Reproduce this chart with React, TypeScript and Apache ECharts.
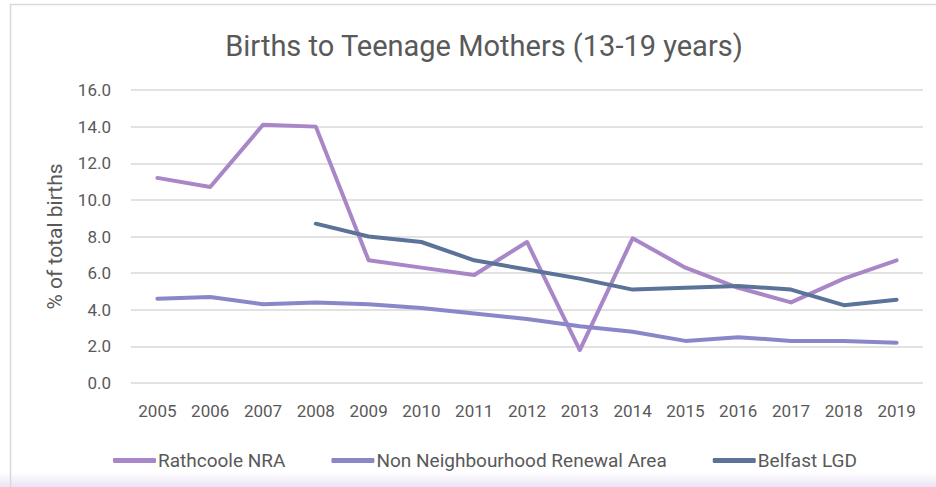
import React, { useEffect, useRef } from "react";
import * as echarts from "echarts";

const years = ["2005", "2006", "2007", "2008", "2009", "2010", "2011", "2012", "2013", "2014", "2015", "2016", "2017", "2018", "2019"];
const rathcoole = [11.2, 10.7, 14.1, 14.0, 6.7, 6.3, 5.9, 7.7, 1.8, 7.9, 6.3, 5.2, 4.4, 5.7, 6.7];
const nonNRA = [4.6, 4.7, 4.3, 4.4, 4.3, 4.1, 3.8, 3.5, 3.1, 2.8, 2.3, 2.5, 2.3, 2.3, 2.2];
const belfast = [null, null, null, 8.7, 8.0, 7.7, 6.7, 6.2, 5.7, 5.1, 5.2, 5.3, 5.1, 4.25, 4.55];
const seriesNames = ["Rathcoole NRA", "Non Neighbourhood Renewal Area", "Belfast LGD"];
const seriesColors = ["#A986C7", "#8A87C9", "#5B7299"];

const FONT = "Roboto";

export default function App() {
  const ref = useRef<HTMLDivElement>(null);
  useEffect(() => {
    if (!ref.current) return;
    const chart = echarts.init(ref.current, undefined, { renderer: "svg" });
    const data = [rathcoole, nonNRA, belfast];
    chart.setOption({
      animation: false,
      backgroundColor: "#ffffff",
      title: {
        text: "Births to Teenage Mothers (13-19 years)",
        left: 479,
        textAlign: "center",
        top: 26,
        textStyle: { fontFamily: FONT, fontSize: 29, fontWeight: "normal", color: "#595959" },
      },
      graphic: [
        {
          type: "rect",
          shape: { x: 0, y: 472, width: 936, height: 15 },
          style: {
            fill: new echarts.graphic.LinearGradient(0, 0, 0, 1, [
              { offset: 0, color: "rgba(255,255,255,1)" },
              { offset: 1, color: "#ECE3F5" },
            ]),
          },
          z: -1,
        },
        {
          type: "line",
          shape: { x1: 10, y1: 4.5, x2: 936, y2: 4.5 },
          style: { stroke: "#D9D9D9", lineWidth: 1.5 },
        },
        {
          type: "line",
          shape: { x1: 10.5, y1: 4, x2: 10.5, y2: 487 },
          style: { stroke: "#D9D9D9", lineWidth: 1.5 },
        },
      ],
      legend: {
        left: 108,
        top: 446,
        icon: "roundRect",
        itemWidth: 43,
        itemHeight: 5,
        itemGap: 46,
        textStyle: { fontFamily: FONT, fontSize: 19, color: "#595959", padding: [0, 0, 0, -3] },
        data: seriesNames,
      },
      grid: { left: 131, right: 13, top: 90, bottom: 104, containLabel: false },
      xAxis: {
        type: "category",
        data: years,
        boundaryGap: true,
        axisLine: { show: false },
        axisTick: { show: false },
        axisLabel: { fontFamily: FONT, fontSize: 17, color: "#595959", margin: 19 },
      },
      yAxis: {
        type: "value",
        min: 0,
        max: 16,
        interval: 2,
        name: "% of total births",
        nameLocation: "middle",
        nameGap: 66,
        nameTextStyle: { fontFamily: FONT, fontSize: 21, color: "#595959" },
        axisLine: { show: false },
        axisTick: { show: false },
        splitLine: { lineStyle: { color: "#D9D9D9", width: 1.5 } },
        axisLabel: {
          fontFamily: FONT,
          fontSize: 17,
          color: "#595959",
          margin: 20,
          formatter: (v: number) => v.toFixed(1),
        },
      },
      series: seriesNames.map((name, i) => ({
        name,
        type: "line",
        data: data[i],
        symbol: "none",
        connectNulls: false,
        lineStyle: { color: seriesColors[i], width: 4, cap: "round", join: "round" },
        itemStyle: { color: seriesColors[i] },
      })),
    });
    return () => chart.dispose();
  }, []);
  return <div ref={ref} style={{ position: "absolute", left: 0, top: 0, width: 936, height: 487 }} />;
}
